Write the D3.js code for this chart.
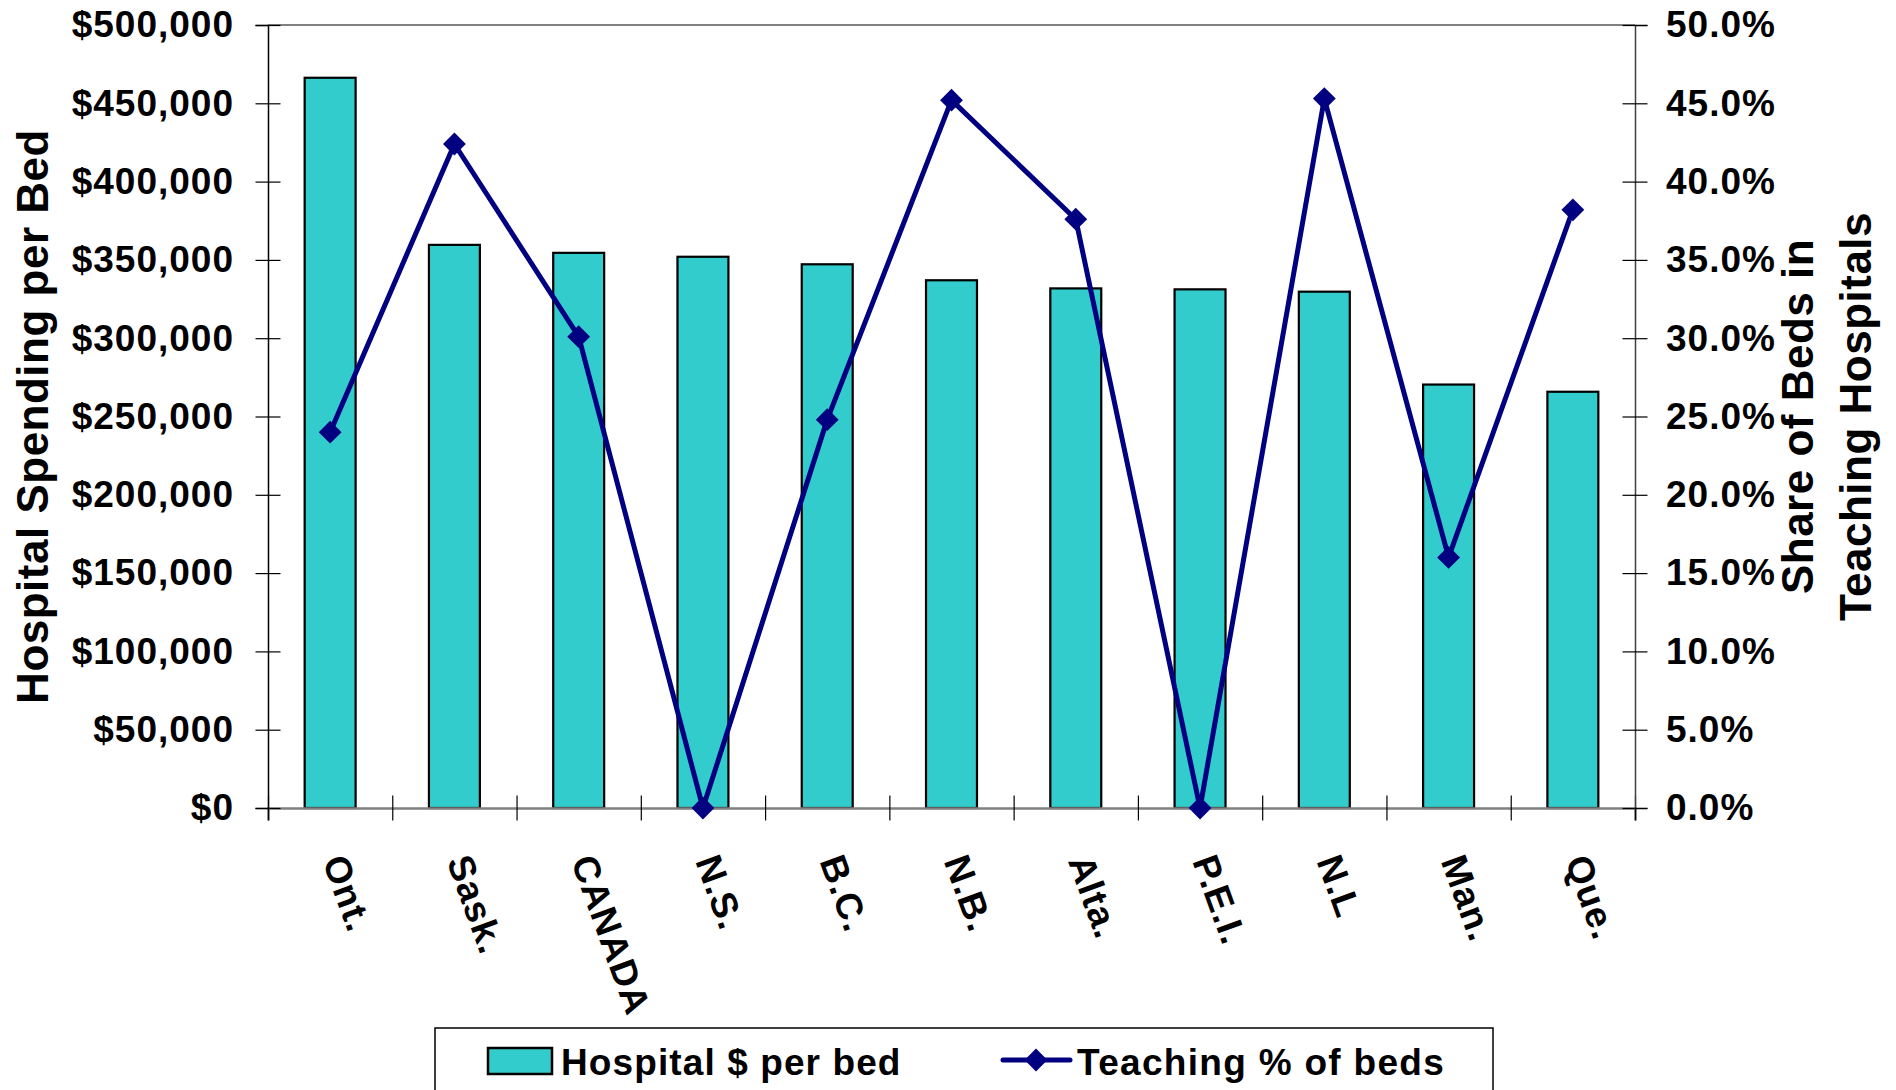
<!DOCTYPE html>
<html>
<head>
<meta charset="utf-8">
<script src="https://cdn.jsdelivr.net/npm/d3@7"></script>
<style>
  body { margin: 0; background: #fff; }
  text { font-family: "Liberation Sans", Arial, sans-serif; font-weight: bold; fill: #000; }
</style>
</head>
<body>
<div id="chart"></div>
<script>
const provinces = ["Ont.", "Sask.", "CANADA", "N.S.", "B.C.", "N.B.", "Alta.", "P.E.I.", "N.L", "Man.", "Que."];
const spendingPerBed = [466300, 359600, 354500, 352000, 347200, 337000, 331800, 331200, 329700, 270400, 265800];
const teachingShare = [0.240, 0.424, 0.301, 0.0, 0.248, 0.452, 0.376, 0.0, 0.453, 0.160, 0.382];
const spendingTicks = [0, 50000, 100000, 150000, 200000, 250000, 300000, 350000, 400000, 450000, 500000];
const shareTicks = [0, 0.05, 0.10, 0.15, 0.20, 0.25, 0.30, 0.35, 0.40, 0.45, 0.50];
const seriesNames = ["Hospital $ per bed", "Teaching % of beds"];
const leftTitle = "Hospital Spending per Bed";
const rightTitle = ["Share of Beds in", "Teaching Hospitals"];

const width = 1896, height = 1090;
const plot = {left: 268, right: 1635, top: 25, bottom: 808};
const barColor = "#33cccc";
const lineColor = "#000080";
const fontSize = 37;

const svg = d3.select("#chart")
    .append("svg")
    .attr("width", width)
    .attr("height", height);

const data = provinces.map((p, i) => ({name: p, spend: spendingPerBed[i], share: teachingShare[i]}));

const x = d3.scaleBand()
    .domain(provinces)
    .range([plot.left, plot.right])
    .paddingInner(0.59)
    .paddingOuter(0.295);

const xEdges = d3.scaleLinear()
    .domain([0, provinces.length])
    .range([plot.left, plot.right]);

const yLeft = d3.scaleLinear()
    .domain([0, 500000])
    .range([plot.bottom, plot.top]);

const yRight = d3.scaleLinear()
    .domain([0, 0.5])
    .range([plot.bottom, plot.top]);

// top border of plot area
svg.append("line")
    .attr("x1", plot.left).attr("x2", plot.right)
    .attr("y1", plot.top).attr("y2", plot.top)
    .attr("stroke", "#808080")
    .attr("stroke-width", 2);

// bars
svg.selectAll(".bar")
    .data(data)
    .enter()
    .append("rect")
    .attr("class", "bar")
    .attr("x", d => x(d.name))
    .attr("y", d => yLeft(d.spend))
    .attr("width", x.bandwidth())
    .attr("height", d => plot.bottom - yLeft(d.spend))
    .attr("fill", barColor)
    .attr("stroke", "#000")
    .attr("stroke-width", 2.2);

// bottom axis (ticks at category edges)
const xAxis = svg.append("g")
    .attr("transform", `translate(0,${plot.bottom})`)
    .call(d3.axisBottom(xEdges)
        .tickValues(d3.range(provinces.length + 1))
        .tickSize(12.5)
        .tickFormat(""));
xAxis.select(".domain").attr("stroke", "#808080").attr("stroke-width", 2.5);
xAxis.selectAll(".tick line").attr("y1", -12.5).attr("y2", 12.5).attr("stroke", "#000").attr("stroke-width", 1.2);

// left axis
const leftAxis = svg.append("g")
    .attr("transform", `translate(${plot.left},0)`)
    .call(d3.axisLeft(yLeft)
        .tickValues(spendingTicks)
        .tickSize(12.5)
        .tickPadding(21.5)
        .tickFormat(d3.format("$,.0f")));
leftAxis.select(".domain").attr("stroke", "#000").attr("stroke-width", 1.5);
leftAxis.selectAll(".tick line").attr("x1", 12.5).attr("x2", -12.5).attr("stroke", "#000").attr("stroke-width", 1.2);
leftAxis.selectAll(".tick text")
    .style("font-size", fontSize + "px")
    .style("letter-spacing", "1px")
    .style("font-family", "'Liberation Sans', Arial, sans-serif")
    .style("font-weight", "bold")
    .attr("fill", "#000");

// right axis
const rightAxis = svg.append("g")
    .attr("transform", `translate(${plot.right},0)`)
    .call(d3.axisRight(yRight)
        .tickValues(shareTicks)
        .tickSize(12.5)
        .tickPadding(18.5)
        .tickFormat(d3.format(".1%")));
rightAxis.select(".domain").attr("stroke", "#404040").attr("stroke-width", 1.5);
rightAxis.selectAll(".tick line").attr("x1", -12.5).attr("x2", 12.5).attr("stroke", "#000").attr("stroke-width", 1.2);
rightAxis.selectAll(".tick text")
    .style("font-size", fontSize + "px")
    .style("letter-spacing", "1px")
    .style("font-family", "'Liberation Sans', Arial, sans-serif")
    .style("font-weight", "bold")
    .attr("fill", "#000");

// line series
const line = d3.line()
    .x(d => x(d.name) + x.bandwidth() / 2)
    .y(d => yRight(d.share));

svg.append("path")
    .datum(data)
    .attr("d", line)
    .attr("fill", "none")
    .attr("stroke", lineColor)
    .attr("stroke-width", 5)
    .attr("stroke-linejoin", "round");

const diamond = d3.symbol().type(d3.symbolSquare).size(260);

svg.selectAll(".marker")
    .data(data)
    .enter()
    .append("path")
    .attr("class", "marker")
    .attr("d", diamond)
    .attr("transform", d => `translate(${x(d.name) + x.bandwidth() / 2},${yRight(d.share)}) rotate(45)`)
    .attr("fill", lineColor);

// category labels
svg.selectAll(".cat-label")
    .data(provinces)
    .enter()
    .append("text")
    .attr("class", "cat-label")
    .attr("transform", d => `translate(${x(d) + x.bandwidth() / 2 - 8},861) rotate(70)`)
    .attr("text-anchor", "start")
    .style("font-size", fontSize + "px")
    .style("letter-spacing", "1px")
    .text(d => d);

// axis titles
svg.append("text")
    .attr("transform", `translate(48,${(plot.top + plot.bottom) / 2}) rotate(-90)`)
    .attr("text-anchor", "middle")
    .style("font-size", "44px")
    .style("letter-spacing", "0.5px")
    .text(leftTitle);

rightTitle.forEach((t, i) => {
    svg.append("text")
        .attr("transform", `translate(${1813 + i * 58},${(plot.top + plot.bottom) / 2}) rotate(-90)`)
        .attr("text-anchor", "middle")
        .style("font-size", "44px")
        .style("letter-spacing", "0.5px")
        .text(t);
});

// legend
const legend = svg.append("g").attr("class", "legend");

legend.append("rect")
    .attr("x", 435)
    .attr("y", 1028)
    .attr("width", 1058)
    .attr("height", 90)
    .attr("fill", "#fff")
    .attr("stroke", "#000")
    .attr("stroke-width", 1.5);

legend.append("rect")
    .attr("x", 488)
    .attr("y", 1048)
    .attr("width", 64)
    .attr("height", 26)
    .attr("fill", barColor)
    .attr("stroke", "#000")
    .attr("stroke-width", 2.5);

legend.append("text")
    .attr("x", 561)
    .attr("y", 1075)
    .style("font-size", fontSize + "px")
    .style("letter-spacing", "1.1px")
    .text(seriesNames[0]);

legend.append("line")
    .attr("x1", 1003).attr("x2", 1070)
    .attr("y1", 1060).attr("y2", 1060)
    .attr("stroke", lineColor)
    .attr("stroke-width", 5)
    .attr("stroke-linecap", "round");

legend.append("path")
    .attr("d", diamond)
    .attr("transform", "translate(1036,1060) rotate(45)")
    .attr("fill", lineColor);

legend.append("text")
    .attr("x", 1077)
    .attr("y", 1075)
    .style("font-size", fontSize + "px")
    .style("letter-spacing", "1.3px")
    .text(seriesNames[1]);
</script>
</body>
</html>
